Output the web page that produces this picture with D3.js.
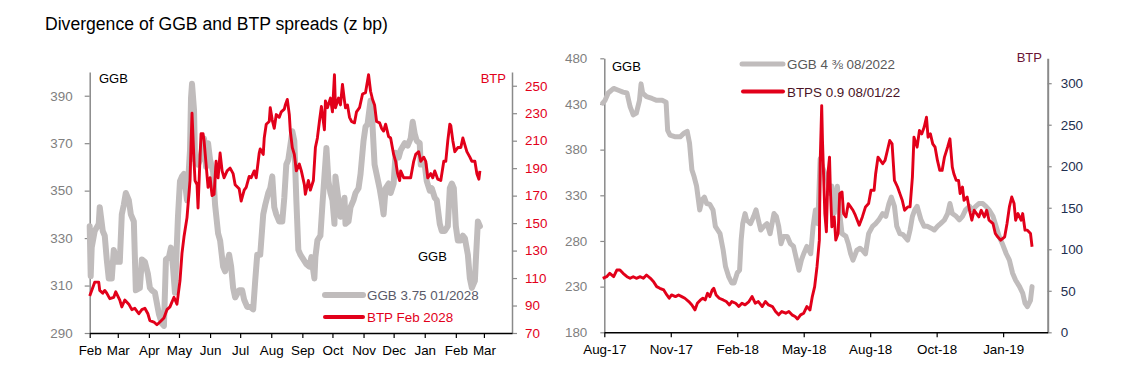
<!DOCTYPE html>
<html>
<head>
<meta charset="utf-8">
<script src="https://cdn.jsdelivr.net/npm/d3@7"></script>
<style>
  body { margin: 0; background: #fff; }
  svg text { font-family: "Liberation Sans", Arial, sans-serif; }
</style>
</head>
<body>
<svg id="chart" width="1146" height="387"></svg>
<script>
// ---- data: left panel, [days since 2018-02-01, spread bp] ----
const leftStart = new Date(2018, 1, 1);
const ggbLeft = [[0,335],[1,314],[2,326],[5,333],[9,336],[10,343],[13,333],[15,331],[17,321],[19,313],[22,313],[24,325],[27,320],[30,320],[32,340],[34,344],[36,349],[39,346],[41,340],[44,337],[46,308],[50,309],[52,321],[55,320],[58,315],[60,309],[62,308],[65,307],[69,298],[72,294],[74,293],[76,321],[79,322],[81,326],[83,318],[85,307],[88,339],[90,354],[92,356],[94,357],[97,346],[100,367],[101,389],[102,395],[104,384],[105,363],[108,361],[110,363],[114,372],[116,360],[118,370],[120,363],[123,358],[125,344],[128,332],[130,329],[133,318],[135,316],[139,323],[141,318],[143,309],[145,305],[149,308],[152,308],[154,304],[157,301],[160,301],[163,300],[165,312],[167,323],[170,323],[173,340],[175,344],[178,349],[180,351],[182,356],[184,343],[186,340],[189,337],[192,337],[194,347],[196,361],[198,363],[200,369],[202,375],[204,371],[206,346],[208,325],[210,323],[213,321],[216,319],[219,318],[221,322],[224,313],[225,322],[227,329],[230,331],[232,344],[234,356],[236,368],[238,354],[240,349],[242,346],[244,336],[245,356],[248,346],[250,339],[252,340],[254,347],[255,336],[258,337],[260,343],[263,346],[265,349],[268,351],[270,357],[273,371],[275,377],[277,378],[280,388],[281,386],[282,377],[284,361],[286,357],[289,351],[291,346],[293,340],[295,351],[298,353],[300,349],[303,353],[305,366],[308,364],[310,367],[314,370],[317,369],[320,372],[322,379],[324,374],[326,371],[329,370],[330,361],[334,361],[336,354],[339,350],[341,351],[344,347],[346,346],[349,336],[351,333],[354,333],[357,335],[359,351],[361,353],[363,351],[365,335],[367,329],[370,329],[372,331],[374,330],[377,323],[379,313],[381,309],[384,312],[385,321],[387,337],[389,335]];
const btpLeft = [[0,97],[2,101],[5,107],[9,107],[10,101],[13,99],[15,101],[17,99],[20,95],[24,96],[26,100],[30,94],[32,89],[35,94],[39,91],[42,87],[45,88],[49,84],[52,87],[55,88],[58,84],[60,79],[64,78],[67,76],[70,78],[74,81],[77,87],[80,89],[84,96],[87,91],[90,108],[92,128],[94,140],[97,154],[100,181],[101,207],[102,230],[104,195],[105,181],[107,178],[108,161],[110,198],[111,215],[113,215],[114,210],[116,193],[118,176],[120,183],[122,170],[124,171],[126,195],[128,183],[130,201],[132,188],[134,183],[137,188],[140,190],[143,186],[145,178],[149,175],[151,166],[154,174],[156,176],[159,184],[161,183],[164,188],[166,183],[169,201],[170,204],[173,200],[174,212],[176,222],[179,224],[180,234],[182,225],[184,219],[186,229],[189,227],[191,231],[194,233],[195,236],[197,240],[199,229],[200,217],[202,205],[204,200],[206,188],[209,193],[211,188],[214,178],[215,171],[218,181],[220,174],[223,181],[225,205],[227,212],[229,224],[231,235],[234,218],[235,239],[237,234],[240,241],[242,231],[244,258],[245,234],[248,241],[250,236],[252,251],[254,239],[255,234],[257,236],[259,227],[261,224],[264,223],[266,231],[269,234],[272,244],[275,245],[278,258],[280,246],[282,240],[284,236],[286,224],[289,223],[291,219],[293,217],[295,222],[298,213],[300,212],[303,200],[305,195],[307,186],[309,181],[310,188],[313,183],[317,183],[320,183],[323,195],[325,200],[328,202],[330,195],[333,198],[335,195],[337,183],[340,186],[342,183],[344,188],[347,182],[350,181],[353,195],[355,195],[357,210],[359,222],[360,221],[362,210],[364,202],[367,205],[370,205],[372,212],[374,207],[376,202],[379,198],[381,195],[384,195],[386,186],[388,182],[389,188]];

// ---- data: right panel, [days since 2017-08-31, spread bp] ----
const rightStart = new Date(2017, 7, 31);
const ggbRight = [[-2,431],[1,434],[5,442],[12,447],[18,445],[24,443],[29,442],[33,427],[37,418],[41,420],[45,434],[47,452],[49,442],[54,438],[61,436],[67,434],[74,434],[79,432],[81,401],[84,396],[91,394],[97,394],[102,398],[106,400],[109,387],[112,358],[115,350],[118,340],[122,314],[125,325],[128,328],[131,321],[135,320],[139,314],[142,296],[145,292],[148,288],[152,270],[155,252],[159,241],[163,234],[166,234],[170,245],[173,248],[175,281],[177,299],[180,310],[182,303],[187,299],[191,307],[194,314],[197,303],[200,292],[204,296],[208,299],[212,288],[217,310],[220,307],[223,296],[226,277],[229,285],[234,285],[238,277],[242,274],[246,259],[249,248],[252,259],[255,266],[259,274],[264,266],[267,296],[270,314],[273,299],[276,370],[279,361],[282,354],[285,350],[288,332],[291,340],[294,310],[298,340],[301,310],[304,288],[309,285],[312,277],[315,266],[318,259],[323,270],[327,272],[330,270],[334,266],[338,288],[343,296],[347,299],[351,303],[356,310],[360,307],[364,321],[367,328],[371,318],[374,296],[378,288],[382,287],[388,281],[391,292],[394,307],[397,314],[400,318],[405,303],[409,296],[413,296],[418,294],[422,292],[426,296],[430,299],[435,303],[439,310],[442,321],[445,310],[450,307],[454,303],[458,307],[462,314],[467,318],[471,314],[475,318],[479,321],[484,321],[488,318],[492,314],[497,307],[501,296],[505,285],[509,277],[514,266],[518,259],[522,245],[526,237],[531,230],[535,223],[538,212],[541,208],[545,215],[547,230]];
const btpRight = [[-2,65],[3,67],[7,71],[12,67],[16,75],[20,75],[24,71],[29,67],[33,65],[37,67],[41,65],[46,67],[50,65],[54,69],[59,65],[63,61],[67,55],[71,53],[76,51],[80,45],[83,41],[86,45],[91,43],[95,45],[99,43],[103,41],[108,37],[112,33],[116,27],[119,35],[123,39],[126,41],[129,39],[132,47],[135,43],[138,51],[140,53],[143,45],[147,41],[152,39],[156,37],[160,33],[163,37],[168,35],[172,31],[176,35],[180,33],[185,37],[189,43],[193,35],[197,37],[202,31],[206,37],[210,33],[215,31],[219,25],[223,21],[227,25],[232,23],[236,25],[240,21],[244,19],[247,16],[251,21],[255,23],[259,31],[263,27],[266,43],[269,55],[272,79],[275,111],[276,203],[278,273],[279,231],[282,143],[284,121],[286,191],[288,211],[289,175],[291,127],[294,139],[296,111],[299,119],[301,167],[304,169],[306,143],[309,139],[312,155],[315,151],[318,147],[321,141],[326,129],[330,139],[334,151],[338,155],[341,171],[345,171],[347,191],[350,211],[353,207],[356,203],[359,207],[362,219],[365,231],[368,227],[371,183],[375,175],[378,167],[381,159],[384,147],[388,151],[391,151],[394,187],[396,235],[400,223],[403,243],[406,239],[409,247],[412,259],[414,235],[417,239],[420,227],[423,223],[426,207],[429,195],[432,195],[435,211],[439,223],[442,233],[445,199],[447,191],[450,183],[453,183],[455,167],[458,175],[460,159],[464,163],[467,147],[470,135],[473,147],[476,143],[479,139],[482,147],[486,139],[489,147],[492,135],[497,131],[500,119],[503,115],[507,111],[512,115],[515,131],[518,151],[521,163],[524,155],[526,135],[529,143],[533,135],[535,143],[538,123],[541,123],[545,119],[547,103]];

// ---- ticks ----
const leftMonthTicks = ["2018-02-01","2018-03-01","2018-04-01","2018-05-01","2018-06-01","2018-07-01","2018-08-01","2018-09-01","2018-10-01","2018-11-01","2018-12-01","2019-01-01","2019-02-01","2019-03-01"];
const rightTickDays = [0, 85, 170, 255, 340, 425, 510];
const leftGgbTicks = [290, 310, 330, 350, 370, 390];
const leftBtpTicks = [70, 90, 110, 130, 150, 170, 190, 210, 230, 250];
const rightGgbTicks = [180, 230, 280, 330, 380, 430, 480];
const rightBtpTicks = [0, 50, 100, 150, 200, 250, 300];

const GREY = "#c0bcbc";
const RED = "#e2001a";
const AXIS = "#8a8a8a";
const FONT = '"Liberation Sans", Arial, sans-serif';

const svg = d3.select("#chart");
const parse = d3.timeParse("%Y-%m-%d");

svg.append("text")
  .attr("x", 45).attr("y", 30)
  .attr("font-size", 17.6).attr("fill", "#000")
  .text("Divergence of GGB and BTP spreads (z bp)");

function styleAxis(sel, lineColor, textColor, domainWidth) {
  sel.attr("font-family", FONT).attr("font-size", 13.4);
  sel.select(".domain").attr("stroke", lineColor).attr("stroke-width", domainWidth);
  sel.selectAll(".tick line").attr("stroke", lineColor).attr("stroke-width", 1.2);
  sel.selectAll(".tick text").attr("fill", textColor);
}

function drawPanel(p) {
  const x = d3.scaleTime().domain(p.xDomain).range(p.xRange);
  const yL = d3.scaleLinear().domain(p.yLDomain).range(p.yRange);
  const yR = d3.scaleLinear().domain(p.yRDomain).range(p.yRange);
  const toDate = d => d3.timeDay.offset(p.start, d[0]);

  svg.append("g")
    .attr("transform", `translate(${p.xRange[0]},0)`)
    .call(d3.axisLeft(yL).tickValues(p.yLTicks).tickSizeInner(p.yLTick).tickSizeOuter(0).tickPadding(p.yLPad))
    .call(s => styleAxis(s, AXIS, p.yLColor, 1.5));

  svg.append("g")
    .attr("transform", `translate(${p.xRange[1]},0)`)
    .call(d3.axisRight(yR).tickValues(p.yRTicks).tickSizeInner(p.yRTick).tickSizeOuter(0).tickPadding(p.yRPad))
    .call(s => styleAxis(s, AXIS, p.yRColor, p.yRWidth));

  svg.append("g")
    .attr("transform", `translate(0,${p.yRange[0]})`)
    .call(d3.axisBottom(x).tickValues(p.xTicks).tickFormat(d3.timeFormat(p.xFormat)).tickSizeInner(5).tickSizeOuter(0).tickPadding(7))
    .call(s => styleAxis(s, "#000", "#000", 1.4));

  const lineL = d3.line().x(d => x(toDate(d))).y(d => yL(d[1]));
  const lineR = d3.line().x(d => x(toDate(d))).y(d => yR(d[1]));

  svg.append("path").datum(p.ggb)
    .attr("d", lineL).attr("fill", "none")
    .attr("stroke", GREY).attr("stroke-width", p.greyWidth)
    .attr("stroke-linejoin", "round").attr("stroke-linecap", "round");

  svg.append("path").datum(p.btp)
    .attr("d", lineR).attr("fill", "none")
    .attr("stroke", RED).attr("stroke-width", 2.9)
    .attr("stroke-linejoin", "round");

  p.labels.forEach(l => {
    svg.append("text")
      .attr("x", l.x).attr("y", l.y)
      .attr("text-anchor", l.anchor || "start")
      .attr("font-size", 13).attr("fill", l.color)
      .text(l.text);
  });

  p.legend.forEach(l => {
    svg.append("line")
      .attr("x1", l.x).attr("x2", l.x + l.len)
      .attr("y1", l.y).attr("y2", l.y)
      .attr("stroke", l.stroke).attr("stroke-width", l.width)
      .attr("stroke-linecap", "round");
    svg.append("text")
      .attr("x", l.x + l.len + 4).attr("y", l.y + 5)
      .attr("font-size", 13.4).attr("fill", l.color)
      .text(l.text);
  });
}

drawPanel({
  start: leftStart,
  xDomain: [leftStart, new Date(2019, 2, 29)],
  xRange: [89.7, 512],
  yRange: [333, 72],
  yLDomain: [290, 400], yRDomain: [70, 260],
  yLTicks: leftGgbTicks, yRTicks: leftBtpTicks,
  yLTick: 5, yLPad: 12, yLColor: "#808080",
  yRTick: 5, yRPad: 8, yRColor: RED, yRWidth: 1.5,
  xTicks: leftMonthTicks.map(parse), xFormat: "%b",
  ggb: ggbLeft, btp: btpLeft, greyWidth: 6,
  labels: [
    { x: 99, y: 83, text: "GGB", color: "#000" },
    { x: 506, y: 83, text: "BTP", color: RED, anchor: "end" },
    { x: 418, y: 261, text: "GGB", color: "#000" }
  ],
  legend: [
    { x: 325, y: 295, len: 38, stroke: GREY, width: 6, color: "#595968", text: "GGB 3.75 01/2028" },
    { x: 325, y: 317, len: 38, stroke: RED, width: 4, color: RED, text: "BTP Feb 2028" }
  ]
});

drawPanel({
  start: rightStart,
  xDomain: [rightStart, new Date(2019, 2, 21)],
  xRange: [604.3, 1047.7],
  yRange: [332.3, 58.3],
  yLDomain: [180, 480], yRDomain: [0, 330],
  yLTicks: rightGgbTicks, yRTicks: rightBtpTicks,
  yLTick: 4, yLPad: 13, yLColor: "#808080",
  yRTick: 4, yRPad: 9, yRColor: "#1f3050", yRWidth: 2,
  xTicks: rightTickDays.map(d => d3.timeDay.offset(rightStart, d)), xFormat: "%b-%y",
  ggb: ggbRight, btp: btpRight, greyWidth: 5,
  labels: [
    { x: 612, y: 71, text: "GGB", color: "#000" },
    { x: 1042, y: 62, text: "BTP", color: "#6a1535", anchor: "end" }
  ],
  legend: [
    { x: 742, y: 64, len: 41, stroke: GREY, width: 5, color: "#595959", text: "GGB 4 \u215C 08/2022" },
    { x: 743, y: 91.5, len: 40, stroke: RED, width: 4, color: "#4a1426", text: "BTPS 0.9 08/01/22" }
  ]
});
</script>
</body>
</html>
